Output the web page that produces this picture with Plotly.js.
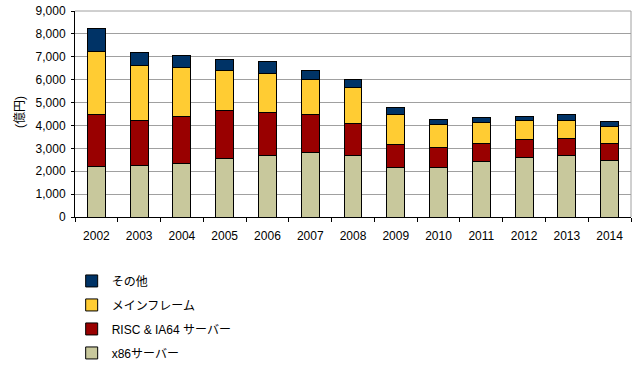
<!DOCTYPE html>
<html><head><meta charset="utf-8">
<script src="https://cdn.plot.ly/plotly-3.0.1.min.js"></script>
<style>html,body{margin:0;padding:0;background:#fff}#chart{width:640px;height:367px}</style>
</head><body><div id="chart"></div>
<script>
const years = ['2002','2003','2004','2005','2006','2007','2008','2009','2010','2011','2012','2013','2014'];
const x86 = [2200,2270,2350,2570,2700,2830,2700,2180,2180,2430,2620,2700,2490];
const risc = [2290,1960,2025,2100,1850,1660,1400,970,840,770,750,710,710];
const mainframe = [2720,2370,2135,1750,1700,1500,1550,1330,1000,930,850,800,750];
const other = [1030,580,540,480,540,410,340,320,260,200,190,250,210];
const names = ['x86サーバー','RISC & IA64 サーバー','メインフレーム','その他'];
const colors = ['#C8C89C','#990000','#FFCC33','#003366'];
const series = [x86, risc, mainframe, other];
const yTitle = '(億円)';

const traces = series.map((vals, i) => ({
  type: 'bar', x: years, y: vals, name: names[i], legendgroup: 'g' + i,
  legendrank: 10 - i,
  marker: {color: colors[i], line: {color: '#000', width: 1}},
  width: 0.42, hoverinfo: 'skip'
}));

const font = {family: '"Liberation Sans", Arial, "Noto Sans CJK JP", sans-serif', size: 12, color: '#000'};
const layout = {
  width: 640, height: 367,
  margin: {l: 75, r: 9, t: 11, b: 150, autoexpand: false},
  barmode: 'stack', font: font,
  paper_bgcolor: '#fff', plot_bgcolor: '#fff',
  showlegend: true,
  legend: {xref: 'container', yref: 'container', x: 0.112, xanchor: 'left', y: 0.274, yanchor: 'top', traceorder: 'grouped', tracegroupgap: 5, font: font, bgcolor: 'rgba(0,0,0,0)'},
  xaxis: {type: 'category', showline: true, linecolor: '#000', linewidth: 1, ticks: 'outside', tickson: 'boundaries', ticklen: 4, tickcolor: '#000', showgrid: false, tickfont: font, ticklabelstandoff: 8},
  yaxis: {range: [0, 9000], dtick: 1000, tickformat: ',', showline: true, linecolor: '#000', linewidth: 1, ticks: 'outside', ticklen: 3, tickcolor: '#000', gridcolor: '#A0A0A0', gridwidth: 1, zeroline: false, tickfont: font, ticklabelstandoff: 3},
  annotations: [
    {text: yTitle, xref: 'paper', yref: 'paper', x: -0.099, y: 0.51, xanchor: 'center', yanchor: 'middle', textangle: -90, showarrow: false, font: font}
  ],
  shapes: [
    {type: 'line', xref: 'paper', yref: 'paper', x0: 0, x1: 1, y0: 1, y1: 1, line: {color: '#A0A0A0', width: 1}},
    {type: 'line', xref: 'paper', yref: 'paper', x0: 1, x1: 1, y0: 0, y1: 1, line: {color: '#A0A0A0', width: 1}}
  ]
};
Plotly.newPlot('chart', traces, layout, {staticPlot: true});
</script></body></html>
